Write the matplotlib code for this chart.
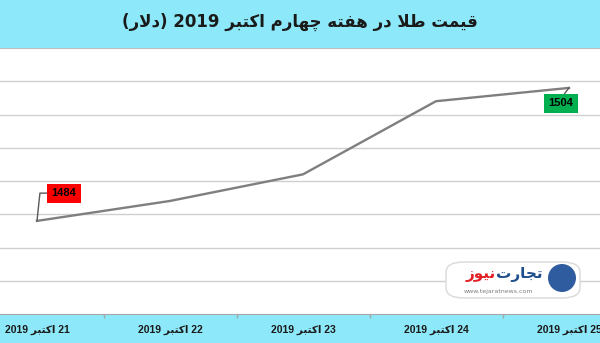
import re
import matplotlib
matplotlib.use("Agg")
import matplotlib.pyplot as plt
from matplotlib.patches import Rectangle, FancyBboxPatch, Ellipse

# data
dates = ["21 اکتبر 2019", "22 اکتبر 2019", "23 اکتبر 2019", "24 اکتبر 2019", "25 اکتبر 2019"]
prices = [1484, 1487, 1491, 1502, 1504]
title = "قیمت طلا در هفته چهارم اکتبر 2019 (دلار)"

# arabic presentation forms: isolated, final, initial, medial
FORMS = {
    "ا": ("\ufe8d", "\ufe8e"),
    "ب": ("\ufe8f", "\ufe90", "\ufe91", "\ufe92"),
    "ت": ("\ufe95", "\ufe96", "\ufe97", "\ufe98"),
    "ج": ("\ufe9d", "\ufe9e", "\ufe9f", "\ufea0"),
    "د": ("\ufea9", "\ufeaa"),
    "ر": ("\ufead", "\ufeae"),
    "ز": ("\ufeaf", "\ufeb0"),
    "ط": ("\ufec1", "\ufec2", "\ufec3", "\ufec4"),
    "ف": ("\ufed1", "\ufed2", "\ufed3", "\ufed4"),
    "ق": ("\ufed5", "\ufed6", "\ufed7", "\ufed8"),
    "ک": ("\ufb8e", "\ufb8f", "\ufb90", "\ufb91"),
    "ل": ("\ufedd", "\ufede", "\ufedf", "\ufee0"),
    "م": ("\ufee1", "\ufee2", "\ufee3", "\ufee4"),
    "ن": ("\ufee5", "\ufee6", "\ufee7", "\ufee8"),
    "و": ("\ufeed", "\ufeee"),
    "ه": ("\ufee9", "\ufeea", "\ufeeb", "\ufeec"),
    "ی": ("\ufbfc", "\ufbfd", "\ufbfe", "\ufbff"),
    "چ": ("\ufb7a", "\ufb7b", "\ufb7c", "\ufb7d"),
}


def joins_left(ch):
    return ch in FORMS and len(FORMS[ch]) == 4


def shape(text):
    out = []
    i = 0
    while i < len(text):
        ch = text[i]
        if ch not in FORMS:
            out.append(ch)
            i += 1
            continue
        before = i > 0 and joins_left(text[i - 1])
        nxt = text[i + 1] if i + 1 < len(text) else ""
        if ch == "ل" and nxt == "ا":
            out.append("\ufefc" if before else "\ufefb")
            i += 2
            continue
        after = joins_left(ch) and nxt in FORMS
        f = FORMS[ch]
        if before and after:
            out.append(f[3])
        elif before:
            out.append(f[1])
        elif after:
            out.append(f[2])
        else:
            out.append(f[0])
        i += 1
    return "".join(out)


def rtl(text):
    s = shape(text)[::-1]
    s = re.sub(r"[0-9A-Za-z.]+", lambda m: m.group()[::-1], s)
    return s.translate(str.maketrans("()", ")("))


cyan = "#8DE9F9"
W, H = 600, 343

fig = plt.figure(figsize=(W / 100, H / 100), dpi=100)
fig.patches.append(Rectangle((0, 1 - 47 / H), 1, 47 / H, transform=fig.transFigure,
                             color=cyan, zorder=-2))
fig.patches.append(Rectangle((0, 0), 1, 29 / H, transform=fig.transFigure,
                             color=cyan, zorder=-2))
fig.text(0.5, 1 - 22 / H, rtl(title), ha="center", va="center", fontsize=12,
         fontweight="bold", family=["DejaVu Sans"], color="#1a1a1a")

ax = fig.add_axes([0, 29 / H, 1, 266 / H])
x = list(range(len(prices)))
ax.plot(x, prices, color="#7F7F7F", lw=1.7, zorder=3)

ax.set_xlim(-37 / 133, 563 / 133)
ax.set_ylim(1470, 1510)
ax.set_yticks(range(1475, 1510, 5))
ax.tick_params(axis="y", length=0, labelleft=False)
ax.grid(axis="y", color="#D0D0D0", lw=1)
ax.set_axisbelow(True)

ax.set_xticks(x)
ax.set_xticklabels([rtl(d) for d in dates], fontsize=7.5, fontweight="bold",
                   family=["Liberation Sans", "DejaVu Sans"], color="#1a1a1a")
ax.tick_params(axis="x", which="major", length=0, pad=8)
ax.set_xticks([i + 0.5 for i in x[:-1]], minor=True)
ax.tick_params(axis="x", which="minor", length=3, color="#A6A6A6", width=1)

for side in ["left", "right"]:
    ax.spines[side].set_visible(False)
ax.spines["bottom"].set_color("#A6A6A6")
ax.spines["top"].set_color("#BFBFBF")

ax.annotate(str(prices[0]), xy=(0, prices[0]), xytext=(19.5, 20), textcoords="offset points",
            ha="center", va="center", fontsize=8, fontweight="bold",
            family=["Liberation Sans"], color="black",
            bbox=dict(boxstyle="square,pad=0.4", fc="#FF0000", ec="none"),
            arrowprops=dict(arrowstyle="-", color="#595959", lw=1, relpos=(0, 0.5),
                            shrinkA=0, shrinkB=0,
                            connectionstyle="angle,angleA=0,angleB=84,rad=0"))
ax.annotate(str(prices[-1]), xy=(4, prices[-1]), xytext=(-5.8, -11), textcoords="offset points",
            ha="center", va="center", fontsize=8, fontweight="bold",
            family=["Liberation Sans"], color="black",
            bbox=dict(boxstyle="square,pad=0.4", fc="#00B050", ec="none"),
            arrowprops=dict(arrowstyle="-", color="#595959", lw=1, relpos=(0.5, 1),
                            shrinkA=0, shrinkB=0))

# watermark logo
logo = FancyBboxPatch((446 / W, 1 - 298 / H), 134 / W, 36 / H,
                      boxstyle="round,pad=0,rounding_size=0.03", transform=fig.transFigure,
                      fc="white", ec="#D9D9D9", lw=1, zorder=4)
fig.patches.append(logo)
fig.patches.append(Ellipse((562 / W, 1 - 278 / H), 28 / W, 28 / H, transform=fig.transFigure,
                           fc="#2E5C9E", ec="none", zorder=5))
fig.text(496 / W, 1 - 274 / H, rtl("تجارت"), ha="left", va="center", fontsize=11,
         fontweight="bold", family=["DejaVu Sans"], color="#1F4E8C", zorder=6)
fig.text(496 / W, 1 - 274 / H, rtl("نیوز"), ha="right", va="center", fontsize=11,
         fontweight="bold", family=["DejaVu Sans"], color="#E31E24", zorder=6)
fig.text(498 / W, 1 - 292 / H, "www.tejaratnews.com", ha="center", va="center",
         fontsize=4.5, family=["DejaVu Sans"], color="#7F7F7F", zorder=6)

fig.savefig("out.png", dpi=100)
